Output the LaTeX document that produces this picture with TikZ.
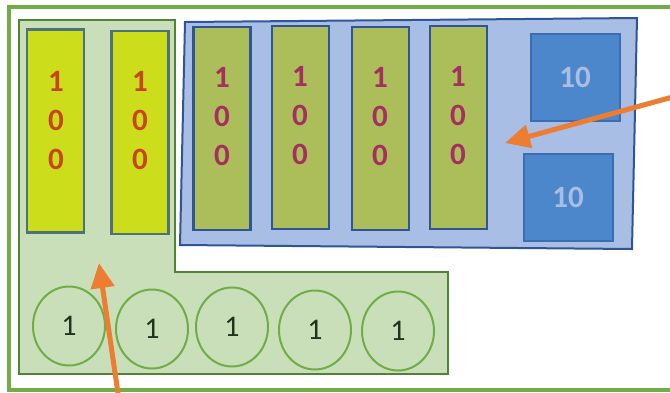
\documentclass[tikz,border=0pt]{standalone}
\usepackage{fontspec}
\setmainfont{Carlito}
\usetikzlibrary{arrows.meta,shapes.geometric}
\definecolor{framegreen}{HTML}{70AD47}
\definecolor{lfill}{HTML}{C9DFB9}
\definecolor{ldraw}{HTML}{548235}
\definecolor{yfill}{HTML}{CCDE1B}
\definecolor{ydraw}{HTML}{4D7378}
\definecolor{ytext}{HTML}{C8451E}
\definecolor{pfill}{HTML}{A8BEE4}
\definecolor{pdraw}{HTML}{2F5597}
\definecolor{ofill}{HTML}{ABBE59}
\definecolor{otext}{HTML}{A5305F}
\definecolor{sfill}{HTML}{4C86CB}
\definecolor{sdraw}{HTML}{3C6DB1}
\definecolor{stext}{HTML}{A9BEE2}
\definecolor{ctext}{HTML}{1F341D}
\definecolor{arrowc}{HTML}{ED7D31}

\begin{document}
\begin{tikzpicture}[x=1pt, y=-1pt,
		hundred/.style={draw, line width=2.2pt, minimum width=57pt, minimum height=203pt, inner sep=0pt},
		digits/.style={align=center, font=\bfseries\fontsize{31}{39}\selectfont},
		ten/.style={draw=sdraw, fill=sfill, line width=2pt, minimum width=89pt, minimum height=87pt, text=stext, font=\bfseries\fontsize{31}{30}\selectfont},
		one/.style={ellipse, draw=framegreen, line width=2pt, minimum width=72pt, minimum height=79pt, inner sep=0pt, text=ctext, font=\fontsize{30}{30}\selectfont},
		pointer/.style={arrowc, line width=5pt, -{Triangle[length=25pt,width=23pt]}}]
			\useasboundingbox (0,0) rectangle (670,392);
			% outer frame
			\draw[framegreen, line width=4pt] (9,7) rectangle (690,389.5);
			% L-shaped area
			\filldraw[fill=lfill, draw=ldraw, line width=2pt] (19,20) -- (175,20) -- (175,272) -- (448,272) -- (448,374) -- (19,374) -- cycle;
			% blue panel
			\filldraw[fill=pfill, draw=pdraw, line width=2pt] (185,22) -- (637,18) -- (632,249) -- (180,245) -- cycle;
			% hundreds
			\node[hundred, draw=ydraw, fill=yfill] (y1) at (55.5,131) {};
			\node[hundred, draw=ydraw, fill=yfill] (y2) at (140,132.5) {};
			\node[digits, text=ytext] (y1txt) at (56,121) {1\\0\\0};
			\node[digits, text=ytext] (y2txt) at (140,121) {1\\0\\0};
			\node[hundred, draw=pdraw, fill=ofill] (o1) at (222,128.5) {};
			\node[hundred, draw=pdraw, fill=ofill] (o2) at (300.5,127.5) {};
			\node[hundred, draw=pdraw, fill=ofill] (o3) at (380.5,128.5) {};
			\node[hundred, draw=pdraw, fill=ofill] (o4) at (458.5,127.5) {};
			\node[digits, text=otext] (o1txt) at (222,117) {1\\0\\0};
			\node[digits, text=otext] (o2txt) at (300,116) {1\\0\\0};
			\node[digits, text=otext] (o3txt) at (380,117) {1\\0\\0};
			\node[digits, text=otext] (o4txt) at (458,116) {1\\0\\0};
			% tens
			\node[ten] (t1) at (575,77.5) {10};
			\node[ten] (t2) at (568,197.5) {10};
			% ones
			\node[one] (c1) at (69,326) {1};
			\node[one] (c2) at (152,329) {1};
			\node[one] (c3) at (232,327) {1};
			\node[one] (c4) at (315,330) {1};
			\node[one] (c5) at (398,331) {1};
			% arrows
			\coordinate (a1from) at (119,400);
			\coordinate (a1to) at (99,263);
			\coordinate (a2from) at (680,95);
			\coordinate (a2to) at (505,143);
			\draw[pointer] (a1from) -- (a1to);
			\draw[pointer] (a2from) -- (a2to);
		\end{tikzpicture}
\end{document}
